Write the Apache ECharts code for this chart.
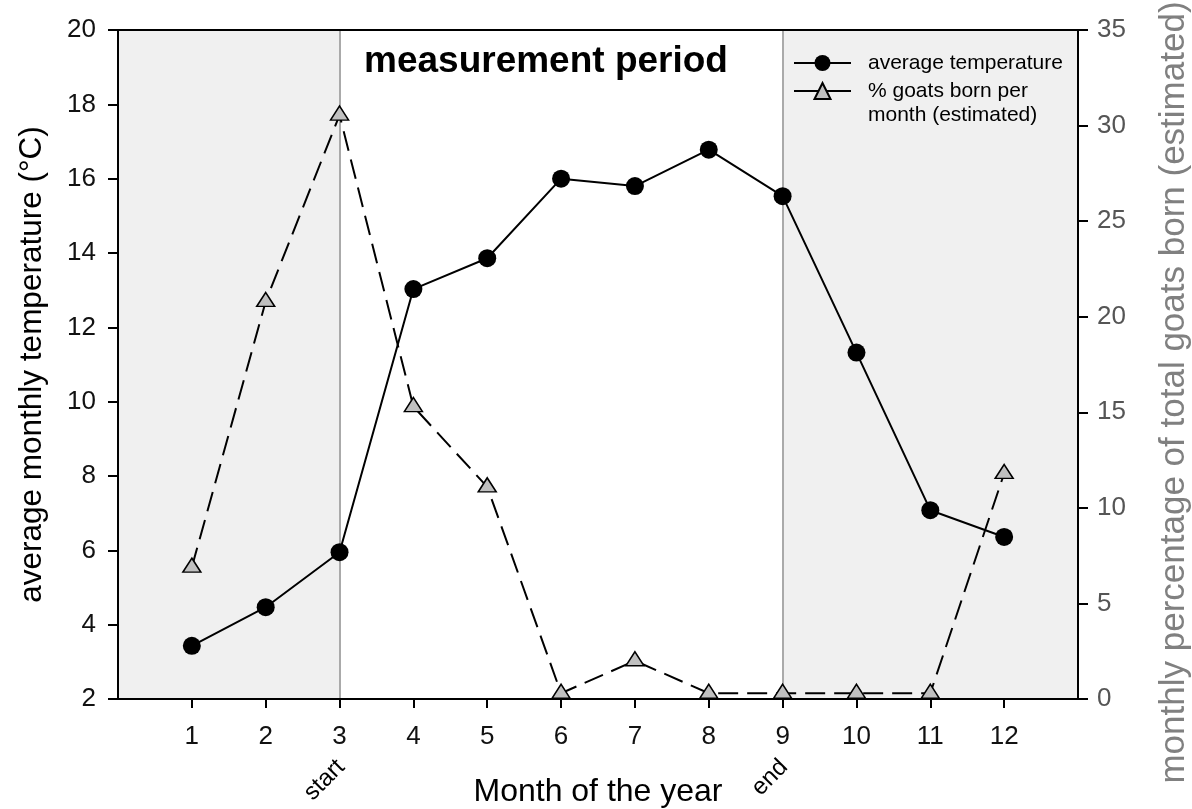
<!DOCTYPE html>
<html><head><meta charset="utf-8">
<script src="https://cdn.jsdelivr.net/npm/echarts@6/dist/echarts.min.js"></script>
<style>html,body{margin:0;padding:0;background:#fff}#c{width:1192px;height:809px}</style>
</head><body><div id="c"></div>
<script>
// ---- data ----
const months = [1, 2, 3, 4, 5, 6, 7, 8, 9, 10, 11, 12];
const avgTemp = [3.43, 4.47, 5.95, 13.03, 13.86, 16.0, 15.8, 16.78, 15.53, 11.32, 7.08, 6.36];
const goatsPct = [6.9, 20.8, 30.55, 15.3, 11.1, 0.3, 2.0, 0.3, 0.3, 0.3, 0.3, 11.8];
const periodMarks = [3, 9];
const periodLabels = ['start', 'end'];
const shadeRanges = [[0, 3], [9, 13]];
const xRange = [0, 13];
const tempRange = [2, 20, 2];
const pctRange = [0, 35, 5];
const tempName = 'average temperature';
const goatsName = '% goats born per month (estimated)';

const FF = 'Liberation Sans, Arial, sans-serif';
const chart = echarts.init(document.getElementById('c'));

const axisLineStyle = { color: '#000', width: 2 };
const option = {
  animation: false,
  backgroundColor: '#fff',
  title: {
    text: 'measurement period', left: 364, top: 43, padding: 0,
    textStyle: { fontSize: 37, fontWeight: 'bold', color: '#000', fontFamily: FF }
  },
  legend: [
    {
      data: [tempName], left: 793, top: 51, padding: 0, orient: 'vertical',
      itemWidth: 57, itemHeight: 20,
      textStyle: { fontSize: 21, color: '#000', fontFamily: FF, lineHeight: 24, padding: [0, 0, 0, 12] },
      lineStyle: { type: 'solid', width: 2, color: '#000' }
    },
    {
      data: [goatsName], left: 793, top: 55, padding: 0, orient: 'vertical',
      itemWidth: 57, itemHeight: 20,
      formatter: () => ' \n% goats born per\nmonth (estimated)',
      textStyle: { fontSize: 21, color: '#000', fontFamily: FF, lineHeight: 24, padding: [0, 0, 0, 12] },
      lineStyle: { type: 'solid', width: 2, color: '#000' }
    }
  ],
  grid: { left: 118, right: 114, top: 30, bottom: 110, containLabel: false, outerBoundsMode: 'none' },
  xAxis: [
    {
      type: 'value', min: xRange[0], max: xRange[1], interval: 1, position: 'bottom', z: 2,
      name: 'Month of the year', nameLocation: 'middle', nameGap: 77,
      nameTextStyle: { fontSize: 32, color: '#000', fontFamily: FF },
      axisLine: { show: true, onZero: false, lineStyle: axisLineStyle },
      axisTick: { show: true, inside: false, length: 9, lineStyle: { color: '#000', width: 2 }, customValues: months },
      axisLabel: { customValues: months, fontSize: 26, color: '#111', fontFamily: FF, margin: 25 },
      splitLine: { show: false }
    },
    {
      type: 'value', min: xRange[0], max: xRange[1], position: 'top', z: 2,
      axisLine: { show: true, onZero: false, lineStyle: axisLineStyle },
      axisTick: { show: false }, axisLabel: { show: false }, splitLine: { show: false }
    }
  ],
  yAxis: [
    {
      type: 'value', min: tempRange[0], max: tempRange[1], interval: tempRange[2], position: 'left', z: 2,
      name: 'average monthly temperature (°C)', nameLocation: 'middle', nameGap: 70,
      nameTextStyle: { fontSize: 31.5, color: '#000', fontFamily: FF },
      axisLine: { show: true, onZero: false, lineStyle: axisLineStyle },
      axisTick: { show: true, inside: false, length: 10, lineStyle: { color: '#000', width: 2 } },
      axisLabel: { fontSize: 26, color: '#111', fontFamily: FF, margin: 22 },
      splitLine: { show: false }
    },
    {
      type: 'value', min: pctRange[0], max: pctRange[1], interval: pctRange[2], position: 'right', z: 2,
      name: 'monthly percentage of total goats born (estimated)', nameLocation: 'middle', nameGap: 79,
      nameTextStyle: { fontSize: 35, color: '#808080', fontFamily: FF, padding: [0, 56, 0, 0] },
      axisLine: { show: true, onZero: false, lineStyle: axisLineStyle },
      axisTick: { show: true, inside: false, length: 10, lineStyle: { color: '#000', width: 2 } },
      axisLabel: { fontSize: 26, color: '#555', fontFamily: FF, margin: 19 },
      splitLine: { show: false }
    }
  ],
  series: [
    {
      name: goatsName, type: 'line', xAxisIndex: 0, yAxisIndex: 1, z: 3,
      data: months.map((m, i) => [m, goatsPct[i]]),
      symbol: 'triangle', symbolSize: [18, 14], symbolOffset: [0, -2],
      itemStyle: { color: '#c0c0c0', borderColor: '#000', borderWidth: 1.5 },
      lineStyle: { color: '#000', width: 2, type: [20, 9] },
      markArea: {
        silent: true, z: 1,
        itemStyle: { color: '#f0f0f0' },
        data: shadeRanges.map(r => [{ xAxis: r[0] }, { xAxis: r[1] }])
      },
      markLine: {
        silent: true, z: 1, symbol: 'none', label: { show: false },
        lineStyle: { color: '#aaaaaa', width: 2, type: 'solid' },
        data: periodMarks.map(m => ({ xAxis: m }))
      }
    },
    {
      name: tempName, type: 'line', xAxisIndex: 0, yAxisIndex: 0, z: 4,
      data: months.map((m, i) => [m, avgTemp[i]]),
      symbol: 'circle', symbolSize: 18,
      itemStyle: { color: '#000' },
      lineStyle: { color: '#000', width: 2 }
    }
  ]
};
chart.setOption(option);

const baseY = chart.convertToPixel({ yAxisIndex: 0 }, tempRange[0]);
chart.setOption({
  graphic: periodMarks.map((m, i) => {
    const px = chart.convertToPixel({ xAxisIndex: 0 }, m);
    return {
      type: 'text', x: px - 7, y: baseY + 56, rotation: Math.PI / 4,
      style: { text: periodLabels[i], font: '24px ' + FF, fill: '#000', textAlign: 'right', textVerticalAlign: 'top' }
    };
  })
});
</script></body></html>
